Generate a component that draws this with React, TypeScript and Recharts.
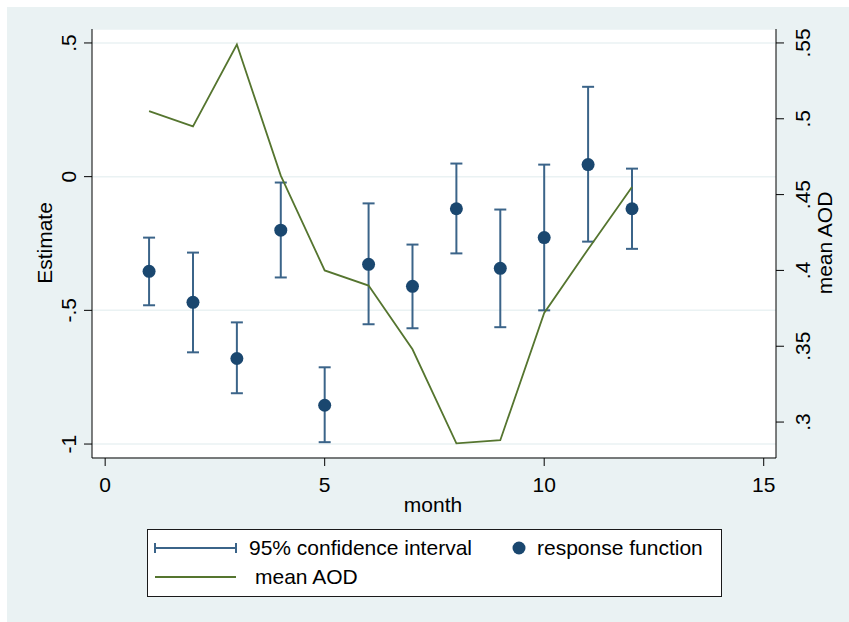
import React from 'react';
import { CartesianGrid, ComposedChart, ErrorBar, Line, Scatter, XAxis, YAxis } from 'recharts';

const months = [1, 2, 3, 4, 5, 6, 7, 8, 9, 10, 11, 12];
const estimates = [-0.354, -0.47, -0.68, -0.2, -0.855, -0.328, -0.41, -0.12, -0.343, -0.228, 0.045, -0.12];
const ciLow = [-0.481, -0.657, -0.81, -0.377, -0.993, -0.552, -0.567, -0.287, -0.563, -0.5, -0.243, -0.27];
const ciHigh = [-0.228, -0.284, -0.545, -0.022, -0.713, -0.1, -0.254, 0.049, -0.123, 0.045, 0.336, 0.03];
const meanAod = [0.505, 0.495, 0.549, 0.4625, 0.4, 0.39, 0.348, 0.286, 0.288, 0.372, 0.414, 0.455];

const xTicks = [0, 5, 10, 15];
const leftTicks = [-1, -0.5, 0, 0.5];
const rightTicks = [0.3, 0.35, 0.4, 0.45, 0.5, 0.55];

const NAVY = '#1a476f';
const CI_COLOR = '#3b6489';
const GREEN = '#55752f';
const BG = '#eaf2f3';
const FONT = '"Liberation Sans", Arial, sans-serif';
const FS = 21;

const data = months.map((m, i) => ({
  month: m,
  est: estimates[i],
  err: [estimates[i] - ciLow[i], ciHigh[i] - estimates[i]],
  aod: meanAod[i],
}));

// stata style: strip leading zero
const fmt = (v: number) => {
  const s = String(Math.round(v * 100) / 100);
  return s.replace(/^0\./, '.').replace(/^-0\./, '-.');
};

const LeftTick = (props: any) => {
  const { y, payload } = props;
  return (
    <text x={76} y={y} transform={`rotate(-90, 76, ${y})`} textAnchor="middle" fontSize={FS} fill="#000" fontFamily={FONT}>
      {fmt(payload.value)}
    </text>
  );
};

const RightTick = (props: any) => {
  const { y, payload } = props;
  return (
    <text x={810} y={y} transform={`rotate(-90, 810, ${y})`} textAnchor="middle" fontSize={FS} fill="#000" fontFamily={FONT}>
      {fmt(payload.value)}
    </text>
  );
};

const BottomTick = (props: any) => {
  const { x, payload } = props;
  return (
    <text x={x} y={492} textAnchor="middle" fontSize={FS} fill="#000" fontFamily={FONT}>
      {payload.value}
    </text>
  );
};

export default function App() {
  return (
    <div style={{ position: 'relative', width: 849, height: 622, background: '#fff', fontFamily: FONT }}>
      <style>{'body{margin:0}'}</style>
      <div style={{ position: 'absolute', left: 7, top: 7, width: 842, height: 615, background: BG }} />
      <div style={{ position: 'absolute', left: 0, top: 0 }}>
        <ComposedChart width={849} height={622} data={data} margin={{ top: 29, right: 13, bottom: 124, left: 32 }}>
          <CartesianGrid vertical={false} fill="#fff" stroke={BG} strokeWidth={1.5} />
          <XAxis
            type="number"
            dataKey="month"
            domain={[-0.3, 15.28]}
            ticks={xTicks}
            height={40}
            tickSize={8}
            tick={<BottomTick />}
            axisLine={{ stroke: '#000' }}
            tickLine={{ stroke: '#000' }}
            label={() => (
              <text x={433} y={512} textAnchor="middle" fontSize={FS} fill="#000" fontFamily={FONT}>
                month
              </text>
            )}
          />
          <YAxis
            type="number"
            domain={[-1.0522, 0.5522]}
            ticks={leftTicks}
            width={60}
            tickSize={8}
            tick={<LeftTick />}
            axisLine={{ stroke: '#000' }}
            tickLine={{ stroke: '#000' }}
            label={() => (
              <text x={52} y={243} transform="rotate(-90, 52, 243)" textAnchor="middle" fontSize={FS} fill="#000" fontFamily={FONT}>
                Estimate
              </text>
            )}
          />
          <YAxis
            yAxisId="right"
            orientation="right"
            type="number"
            domain={[0.2763, 0.5592]}
            ticks={rightTicks}
            width={60}
            tickSize={8}
            tick={<RightTick />}
            axisLine={{ stroke: '#000' }}
            tickLine={{ stroke: '#000' }}
            label={() => (
              <text x={832} y={243} transform="rotate(-90, 832, 243)" textAnchor="middle" fontSize={FS} fill="#000" fontFamily={FONT}>
                mean AOD
              </text>
            )}
          />
          <Scatter dataKey="est" fill={NAVY} isAnimationActive={false} shape={(p: any) => <circle cx={p.cx} cy={p.cy} r={6.5} fill={NAVY} />}>
            <ErrorBar dataKey="err" direction="y" width={6} stroke={CI_COLOR} strokeWidth={2} />
          </Scatter>
          <Line yAxisId="right" dataKey="aod" stroke={GREEN} strokeWidth={1.8} dot={false} isAnimationActive={false} />
        </ComposedChart>
      </div>
      <div
        style={{
          position: 'absolute',
          left: 147,
          top: 529,
          width: 573,
          height: 66,
          background: '#fff',
          border: '1.5px solid #1a1a1a',
        }}
      />
      <svg style={{ position: 'absolute', left: 0, top: 0 }} width={849} height={622}>
        <line x1={155} y1={548} x2={236} y2={548} stroke={CI_COLOR} strokeWidth={2} />
        <line x1={155} y1={543} x2={155} y2={553} stroke={CI_COLOR} strokeWidth={2} />
        <line x1={236} y1={543} x2={236} y2={553} stroke={CI_COLOR} strokeWidth={2} />
        <text x={249} y={555} fontSize={FS} fill="#000" fontFamily={FONT}>95% confidence interval</text>
        <circle cx={519} cy={548} r={6.5} fill={NAVY} />
        <text x={537} y={555} fontSize={FS} fill="#000" fontFamily={FONT}>response function</text>
        <line x1={155} y1={577} x2={236} y2={577} stroke={GREEN} strokeWidth={2} />
        <text x={255} y={584} fontSize={FS} fill="#000" fontFamily={FONT}>mean AOD</text>
      </svg>
    </div>
  );
}
